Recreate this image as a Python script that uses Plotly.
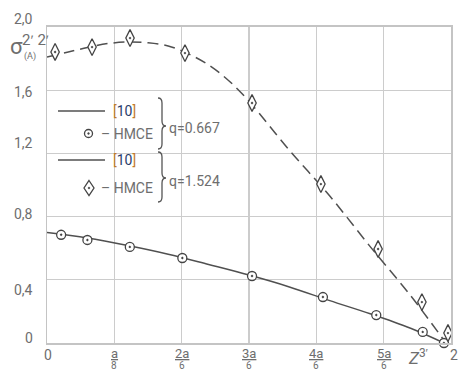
import plotly.graph_objects as go

# ---- data ----
x_ticks = [0, 1/3, 2/3, 1, 4/3, 5/3, 2]
x_tick_num = ["0", "a", "2a", "3a", "4a", "5a", "2"]
x_tick_den = ["", "8", "6", "6", "6", "6", ""]
y_ticks = [0, 0.4, 0.8, 1.2, 1.6, 2.0]
y_tick_text = ["0", "0,4", "0,8", "1,2", "1,6", "2,0"]
y_label_shift = [5, -10, 3, 10, -2, 8]

# [10] curve, q=0.667 (solid)
ref_q1_x = [0, 0.2, 0.4, 0.6, 0.8, 1.0, 1.2, 1.4, 1.6, 1.8, 1.965]
ref_q1_y = [0.70, 0.665, 0.617, 0.562, 0.497, 0.43, 0.355, 0.268, 0.185, 0.093, 0.0]
# HMCE, q=0.667 (circles)
hmce_q1_x = [0.07, 0.20, 0.41, 0.67, 1.015, 1.366, 1.63, 1.86, 1.965]
hmce_q1_y = [0.685, 0.652, 0.608, 0.538, 0.424, 0.291, 0.177, 0.07, 0.0]

# [10] curve, q=1.524 (dashed)
ref_q2_x = [0, 0.1, 0.2, 0.3, 0.4, 0.5, 0.6, 0.7, 0.8, 0.9, 1.0, 1.2, 1.4, 1.6, 1.8, 1.975]
ref_q2_y = [1.81, 1.84, 1.87, 1.895, 1.905, 1.90, 1.88, 1.83, 1.76, 1.66, 1.53, 1.22, 0.93, 0.61, 0.30, 0.0]
# HMCE, q=1.524 (diamonds)
hmce_q2_x = [0.04, 0.223, 0.411, 0.683, 1.015, 1.356, 1.639, 1.856, 1.985]
hmce_q2_y = [1.842, 1.873, 1.93, 1.835, 1.519, 1.006, 0.595, 0.259, 0.063]

# ---- layout helpers (pixel -> paper) ----
W, H = 458, 371
L, R, T, B = 47, 7, 27, 28
PW, PH = W - L - R, H - T - B


def px(x):
    return (x - L) / PW


def py(y):
    return (H - B - y) / PH


LINE = "#505050"
TXT = "#6e6e6e"
GRID = "#cccccc"
FONT = "Roboto"

fig = go.Figure()
fig.add_trace(go.Scatter(x=ref_q1_x, y=ref_q1_y, mode="lines",
                         line=dict(color=LINE, width=1.5, shape="spline"),
                         showlegend=False, cliponaxis=False))
fig.add_trace(go.Scatter(x=ref_q2_x, y=ref_q2_y, mode="lines",
                         line=dict(color=LINE, width=1.5, shape="spline", dash="11px,6px"),
                         showlegend=False, cliponaxis=False))
fig.add_trace(go.Scatter(x=hmce_q1_x, y=hmce_q1_y, mode="markers",
                         marker=dict(symbol="circle-dot", size=9, color="white",
                                     line=dict(color="#444", width=1.3)),
                         showlegend=False, cliponaxis=False))
fig.add_trace(go.Scatter(x=hmce_q2_x, y=hmce_q2_y, mode="markers",
                         marker=dict(symbol="diamond-tall-dot", size=12, color="white",
                                     line=dict(color="#444", width=1.3)),
                         showlegend=False, cliponaxis=False))

shapes = []
# legend white box covering grid
shapes.append(dict(type="rect", xref="x", yref="y", x0=0.03, x1=0.995, y0=0.81, y1=1.59,
                   fillcolor="white", line=dict(width=0), layer="below"))
# legend sample lines
for yy in (111, 160):
    shapes.append(dict(type="line", xref="paper", yref="paper",
                       x0=px(58), x1=px(105), y0=py(yy), y1=py(yy),
                       line=dict(color=LINE, width=1.5)))
# legend circle marker
cx, cy, r = 88.5, 133.5, 4
shapes.append(dict(type="circle", xref="paper", yref="paper",
                   x0=px(cx - r), x1=px(cx + r), y0=py(cy + r), y1=py(cy - r),
                   line=dict(color="#444", width=1.3), fillcolor="white"))
shapes.append(dict(type="circle", xref="paper", yref="paper",
                   x0=px(cx - 0.9), x1=px(cx + 0.9), y0=py(cy + 0.9), y1=py(cy - 0.9),
                   line=dict(color="#444", width=0.5), fillcolor="#444"))
# legend diamond marker
dx, dy, hw, hh = 89, 188, 5, 7.5
path = "M {},{} L {},{} L {},{} L {},{} Z".format(
    px(dx), py(dy - hh), px(dx + hw), py(dy), px(dx), py(dy + hh), px(dx - hw), py(dy))
shapes.append(dict(type="path", xref="paper", yref="paper", path=path,
                   line=dict(color="#444", width=1.3), fillcolor="white"))
shapes.append(dict(type="circle", xref="paper", yref="paper",
                   x0=px(dx - 0.9), x1=px(dx + 0.9), y0=py(dy + 0.9), y1=py(dy - 0.9),
                   line=dict(color="#444", width=0.5), fillcolor="#444"))


def brace(x0, ytop, ybot, ymid, w=8, rr=5):
    xm, x1 = x0 + w / 2, x0 + w
    pts = [
        "M {},{}".format(px(x0), py(ytop)),
        "Q {},{} {},{}".format(px(xm), py(ytop), px(xm), py(ytop + rr)),
        "L {},{}".format(px(xm), py(ymid - rr)),
        "Q {},{} {},{}".format(px(xm), py(ymid), px(x1), py(ymid)),
        "Q {},{} {},{}".format(px(xm), py(ymid), px(xm), py(ymid + rr)),
        "L {},{}".format(px(xm), py(ybot - rr)),
        "Q {},{} {},{}".format(px(xm), py(ybot), px(x0), py(ybot)),
    ]
    return dict(type="path", xref="paper", yref="paper", path=" ".join(pts),
                line=dict(color="#555", width=1.3))


shapes.append(brace(158, 98, 149, 126))
shapes.append(brace(158, 152, 202, 178))

ann = []
ref_txt = ("<span style='color:#c27c2c'>[</span><span style='color:#2b3d6b'>10</span>"
           "<span style='color:#c27c2c'>]</span>")
for yy in (111, 160):
    ann.append(dict(text=ref_txt, xref="paper", yref="paper", x=px(111), y=py(yy),
                    xanchor="left", yanchor="middle", showarrow=False,
                    font=dict(family=FONT, size=14)))
for yy in (133.5, 188):
    ann.append(dict(text="– HMCE", xref="paper", yref="paper", x=px(99), y=py(yy),
                    xanchor="left", yanchor="middle", showarrow=False,
                    font=dict(family=FONT, size=14, color=TXT)))
ann.append(dict(text="q=0.667", xref="paper", yref="paper", x=px(167), y=py(128),
                xanchor="left", yanchor="middle", showarrow=False,
                font=dict(family=FONT, size=14, color=TXT)))
ann.append(dict(text="q=1.524", xref="paper", yref="paper", x=px(167), y=py(181),
                xanchor="left", yanchor="middle", showarrow=False,
                font=dict(family=FONT, size=14, color=TXT)))

# y tick labels
for v, t, s in zip(y_ticks, y_tick_text, y_label_shift):
    ann.append(dict(text=t, xref="paper", yref="y", x=0, y=v, xshift=-12, yshift=s,
                    xanchor="right", yanchor="middle", showarrow=False,
                    font=dict(family=FONT, size=14, color=TXT)))

# x tick labels (fractions)
for v, num, den in zip(x_ticks, x_tick_num, x_tick_den):
    if den:
        ann.append(dict(text="<u>" + num + "</u>", xref="x", yref="paper", x=v, y=py(353),
                        xanchor="center", yanchor="middle", showarrow=False,
                        font=dict(family=FONT, size=13, color=TXT)))
        ann.append(dict(text=den, xref="x", yref="paper", x=v, y=py(365),
                        xanchor="center", yanchor="middle", showarrow=False,
                        font=dict(family=FONT, size=10, color=TXT)))
    else:
        ann.append(dict(text=num, xref="x", yref="paper", x=v, y=py(355),
                        xanchor="center", yanchor="middle", showarrow=False,
                        xshift=3 if v > 1 else 1,
                        font=dict(family=FONT, size=14, color=TXT)))

# y axis title
ann.append(dict(text="σ", xref="paper", yref="paper", x=px(16), y=py(46),
                xanchor="center", yanchor="middle", showarrow=False,
                font=dict(family=FONT, size=22, color=TXT)))
ann.append(dict(text="2ʹ 2ʹ", xref="paper", yref="paper", x=px(35), y=py(40),
                xanchor="center", yanchor="middle", showarrow=False,
                font=dict(family=FONT, size=15, color=TXT)))
ann.append(dict(text="(A)", xref="paper", yref="paper", x=px(29.5), y=py(57),
                xanchor="center", yanchor="middle", showarrow=False,
                font=dict(family=FONT, size=9, color=TXT)))
# x axis title
ann.append(dict(text="<i>Z</i><sup>3ʹ</sup>", xref="paper", yref="paper", x=px(418), y=py(357),
                xanchor="center", yanchor="middle", showarrow=False,
                font=dict(family=FONT, size=17, color=TXT)))

fig.update_layout(
    width=W, height=H,
    margin=dict(l=L, r=R, t=T, b=B, autoexpand=False),
    paper_bgcolor="white", plot_bgcolor="white",
    shapes=shapes, annotations=ann,
    showlegend=False,
    xaxis=dict(range=[0, 2], tickvals=x_ticks, showticklabels=False,
               showgrid=True, gridcolor=GRID, gridwidth=1.3,
               showline=True, linecolor="#c4c4c4", linewidth=1.8, mirror=True,
               ticks="", zeroline=False, fixedrange=True, automargin=False),
    yaxis=dict(range=[0, 2], tickvals=y_ticks, showticklabels=False,
               showgrid=True, gridcolor=GRID, gridwidth=1.3,
               showline=True, linecolor="#c4c4c4", linewidth=1.5, mirror=True,
               ticks="", zeroline=False, fixedrange=True, automargin=False),
)

fig.write_html("out.html",
               config={"displayModeBar": False, "staticPlot": True},
               post_script="document.body.style.margin='0';document.body.style.padding='0';"
                           "document.body.style.overflow='hidden';")
